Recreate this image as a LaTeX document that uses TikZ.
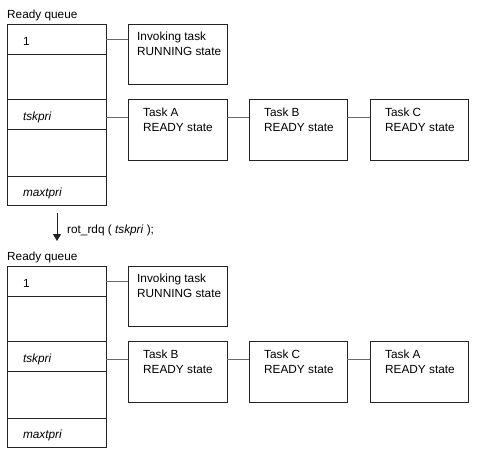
\documentclass[tikz,border=0pt]{standalone}
\usepackage{fontspec}
\setmainfont{Liberation Sans}
\usetikzlibrary{arrows.meta, positioning}
\definecolor{boxgray}{RGB}{35,35,35}
\definecolor{linkgray}{RGB}{105,105,105}

\begin{document}
\begin{tikzpicture}[x=1pt, y=-1pt,
  every node/.style={font=\fontsize{11.8}{15}\selectfont},
  qrow/.style={draw=boxgray, line width=1pt, text width=67pt, inner xsep=16pt,
    inner ysep=0pt, text height=12pt, text depth=0pt, align=left, outer sep=0pt},
  tbox/.style={draw=boxgray, line width=1pt, minimum height=61pt,
    outer sep=0pt, anchor=north west},
  ttext/.style={inner sep=0pt, align=left},
  link/.style={draw=linkgray, line width=1pt},
  arrow/.style={-{Triangle[length=7pt, width=8pt]}, line width=1pt}
]
  \useasboundingbox (0,0) rectangle (478,456);

  % Two snapshots of the queue
  \foreach \p/\dy/\ta/\tb/\tc in {u/0/A/B/C, l/242/B/C/A} {
    \begin{scope}[shift={(0,\dy)}]
      % Ready queue
      \node[inner sep=0pt, anchor=base west] (title\p) at (7,18) {Ready queue};
      \node[qrow, minimum height=30pt, anchor=north west] (q1\p) at (7,24) {1};
      \node[qrow, minimum height=45pt, below=0pt of q1\p] (qa\p) {};
      \node[qrow, minimum height=30pt, below=0pt of qa\p] (qt\p) {\textit{tskpri}};
      \node[qrow, minimum height=47pt, below=0pt of qt\p] (qb\p) {};
      \node[qrow, minimum height=29pt, below=0pt of qb\p] (qm\p) {\textit{maxtpri}};

      % Tasks
      \node[tbox, minimum width=99pt, minimum height=60pt] (inv\p) at (128,24) {};
      \node[tbox, minimum width=99pt] (t1\p) at (128,99) {};
      \node[tbox, minimum width=98pt] (t2\p) at (249,99) {};
      \node[tbox, minimum width=98pt] (t3\p) at (370,99) {};
      \node[ttext, below right=8pt and 9pt of inv\p.north west] (invtxt\p)
        {Invoking task\\RUNNING state};
      \node[ttext, below right=9pt and 15pt of t1\p.north west] (t1txt\p)
        {Task \ta\\READY state};
      \node[ttext, below right=9pt and 15pt of t2\p.north west] (t2txt\p)
        {Task \tb\\READY state};
      \node[ttext, below right=9pt and 15pt of t3\p.north west] (t3txt\p)
        {Task \tc\\READY state};

      % Links
      \coordinate (rt\p) at ([yshift=-3pt]qt\p.east);
      \draw[link] (q1\p.east) -- (q1\p.east -| inv\p.west);
      \draw[link] (rt\p) -- (rt\p -| t1\p.west)
        (t1\p.east |- rt\p) -- (rt\p -| t2\p.west)
        (t2\p.east |- rt\p) -- (rt\p -| t3\p.west);
    \end{scope}
  }

  % Rotation call
  \coordinate (arrtop) at (57,213);
  \coordinate (arrtip) at (57,241);
  \draw[arrow, boxgray] (arrtop) -- (arrtip);
  \node[inner sep=0pt, anchor=west] (call) at (67,230)
    {rot\_rdq ( \textit{tskpri} );};
\end{tikzpicture}
\end{document}
